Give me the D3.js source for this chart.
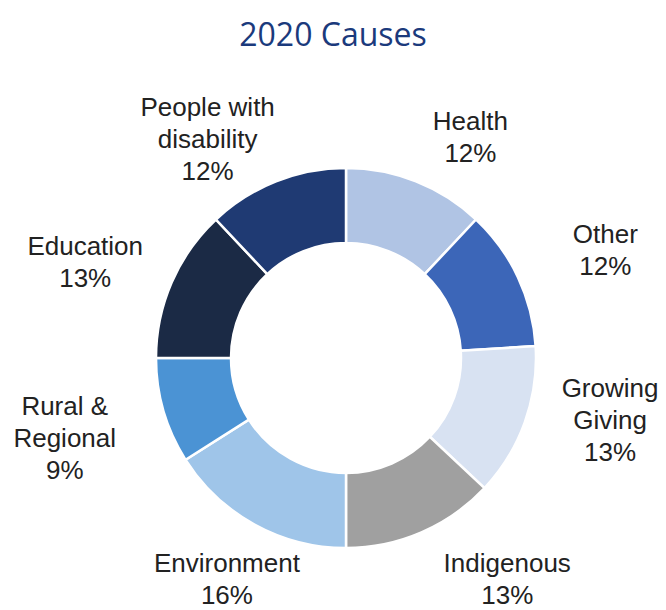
<!DOCTYPE html>
<html lang="en">
<head>
    <meta charset="UTF-8">
    <title>2020 Causes</title>
    <style>
        body { margin: 0; background: #fff; }
        svg#chart { display: block; }
    </style>
</head>
<body>
    <script src="https://d3js.org/d3.v7.min.js"></script>
    <script>
        // data (clockwise from 12 o'clock)
        const causes = ['Health', 'Other', 'Growing Giving', 'Indigenous', 'Environment', 'Rural & Regional', 'Education', 'People with disability']
        const shares = [12, 12, 13, 13, 16, 9, 13, 12]
        const labelLines = [
            ['Health'], ['Other'], ['Growing', 'Giving'], ['Indigenous'],
            ['Environment'], ['Rural &', 'Regional'], ['Education'], ['People with', 'disability']
        ]
        const colors = ['#b0c4e4', '#3c66b8', '#d8e2f2', '#a0a0a0', '#9fc5e9', '#4b93d4', '#1b2a45', '#1f3a73']

        const width = 666
        const height = 610
        const cx = 346
        const cy = 358
        const outerR = 190
        const innerR = 115
        const labelR = 270
        const lineH = 32

        // small hand nudges so labels sit where the original put them
        const nudge = {
            'Health': [25, 30],
            'Other': [15, 7],
            'Growing Giving': [10, -29],
            'Indigenous': [54, -27],
            'Environment': [11, -16],
            'Rural & Regional': [-22, 5],
            'Education': [-13, 11],
            'People with disability': [-39, 32]
        }

        const data = causes.map((c, i) => ({ cause: c, value: shares[i], lines: labelLines[i] }))

        const svg = d3.select('body')
            .append('svg')
            .attr('id', 'chart')
            .attr('width', width)
            .attr('height', height)

        svg.append('text')
            .attr('x', 333)
            .attr('y', 46)
            .attr('text-anchor', 'middle')
            .attr('font-family', '"Open Sans", "Noto Sans", sans-serif')
            .attr('font-size', 32)
            .attr('fill', '#1b3a7c')
            .text('2020 Causes')

        const color = d3.scaleOrdinal().domain(causes).range(colors)

        const pie = d3.pie()
            .sort(null)
            .value(d => d.value)

        const arc = d3.arc()
            .innerRadius(innerR)
            .outerRadius(outerR)

        const labelArc = d3.arc()
            .innerRadius(labelR)
            .outerRadius(labelR)

        const g = svg.append('g')
            .attr('transform', 'translate(' + cx + ',' + cy + ')')

        const arcs = pie(data)

        g.selectAll('path.slice')
            .data(arcs)
            .join('path')
            .attr('class', 'slice')
            .attr('d', arc)
            .attr('fill', d => color(d.data.cause))
            .attr('stroke', '#fff')
            .attr('stroke-width', 2.5)
            .attr('stroke-linejoin', 'miter')

        const labels = g.selectAll('text.label')
            .data(arcs)
            .join('text')
            .attr('class', 'label')
            .attr('text-anchor', 'middle')
            .attr('font-family', '"Liberation Sans", Arial, sans-serif')
            .attr('font-size', 26)
            .attr('fill', '#222')
            .attr('transform', d => {
                const [x, y] = labelArc.centroid(d)
                const [dx, dy] = nudge[d.data.cause]
                return 'translate(' + (x + dx) + ',' + (y + dy) + ')'
            })

        labels.each(function (d) {
            const lines = d.data.lines.concat([d.data.value + '%'])
            const top = -(lines.length - 1) * lineH / 2
            d3.select(this).selectAll('tspan')
                .data(lines)
                .join('tspan')
                .attr('x', 0)
                .attr('y', (t, i) => top + i * lineH + 9)
                .text(t => t)
        })
    </script>
</body>
</html>
